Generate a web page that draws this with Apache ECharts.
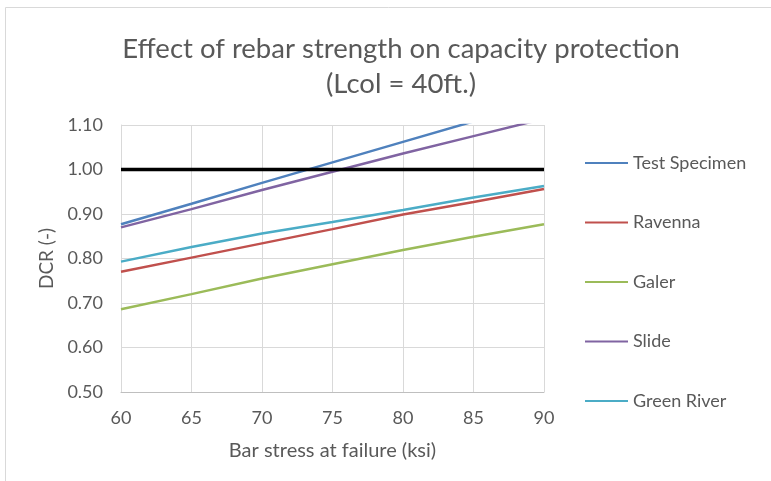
<!DOCTYPE html>
<html><head><meta charset="utf-8">
<script src="https://cdn.jsdelivr.net/npm/echarts@6/dist/echarts.min.js"></script>
<style>html,body{margin:0;padding:0;background:#fff}#c{width:771px;height:481px}</style>
</head><body><div id="c"></div>
<script>
const barStress = [60, 65, 70, 75, 80, 85, 90];
const testSpecimen = [0.877, 0.923, 0.970, 1.016, 1.062, 1.108, 1.155];
const ravenna = [0.770, 0.802, 0.834, 0.866, 0.899, 0.927, 0.956];
const galer = [0.686, 0.720, 0.755, 0.787, 0.819, 0.849, 0.877];
const slide = [0.870, 0.911, 0.954, 0.995, 1.036, 1.075, 1.114];
const greenRiver = [0.793, 0.826, 0.856, 0.882, 0.909, 0.937, 0.963];
const limitDCR = 1.0;
const seriesNames = ['Test Specimen', 'Ravenna', 'Galer', 'Slide', 'Green River'];
const seriesColors = ['#4F81BD', '#C0504D', '#9BBB59', '#8064A2', '#4BACC6'];
const seriesValues = [testSpecimen, ravenna, galer, slide, greenRiver];

const font = 'Lato';
const chart = echarts.init(document.getElementById('c'), null, {renderer: 'canvas'});
const series = seriesNames.map((n, i) => ({
  name: n, type: 'line', symbol: 'none', color: seriesColors[i],
  lineStyle: {width: 2.5, color: seriesColors[i]},
  data: barStress.map((x, j) => [x, seriesValues[i][j]]),
  z: 3
}));
series.push({
  name: 'limit', type: 'line', symbol: 'none', data: [[60, limitDCR], [90, limitDCR]],
  lineStyle: {width: 3.5, color: '#000'}, z: 4
});
chart.setOption({
  animation: false,
  textStyle: {fontFamily: font},
  graphic: [{type: 'rect', shape: {x: 5.5, y: 7.5, width: 800, height: 500}, style: {fill: 'none', stroke: '#d9d9d9', lineWidth: 1}}],
  title: {
    text: 'Effect of rebar strength on capacity protection\n(Lcol = 40ft.)',
    left: 396, top: 27, textAlign: 'center',
    textStyle: {fontFamily: font, fontSize: 27.5, fontWeight: 'normal', color: '#595959', lineHeight: 35}
  },
  legend: {
    data: seriesNames, orient: 'vertical', left: 580, top: 149,
    itemWidth: 43, itemHeight: 14, itemGap: 41.5,
    icon: 'path://M0,6 L43,6 L43,8 L0,8 Z',
    textStyle: {fontFamily: font, fontSize: 18, color: '#595959'}
  },
  grid: {left: 121, right: 227, top: 125, bottom: 89, containLabel: false},
  xAxis: {
    type: 'value', min: 60, max: 90, interval: 5,
    name: 'Bar stress at failure (ksi)', nameLocation: 'middle', nameGap: 49,
    nameTextStyle: {fontFamily: font, fontSize: 20, color: '#595959'},
    axisLine: {lineStyle: {color: '#bfbfbf', width: 1}}, axisTick: {show: false},
    axisLabel: {fontFamily: font, fontSize: 18, color: '#595959', margin: 17},
    splitLine: {show: true, lineStyle: {color: '#d9d9d9', width: 1}}
  },
  yAxis: {
    type: 'value', min: 0.5, max: 1.1, interval: 0.1,
    name: 'DCR (-)', nameLocation: 'middle', nameGap: 56, nameRotate: 90,
    nameTextStyle: {fontFamily: font, fontSize: 19, color: '#595959'},
    axisLine: {show: true, lineStyle: {color: '#d9d9d9'}}, axisTick: {show: false},
    axisLabel: {fontFamily: font, fontSize: 18, color: '#595959', margin: 18, formatter: v => v.toFixed(2)},
    splitLine: {show: true, lineStyle: {color: '#d9d9d9', width: 1}}
  },
  series: series
});
</script></body></html>
